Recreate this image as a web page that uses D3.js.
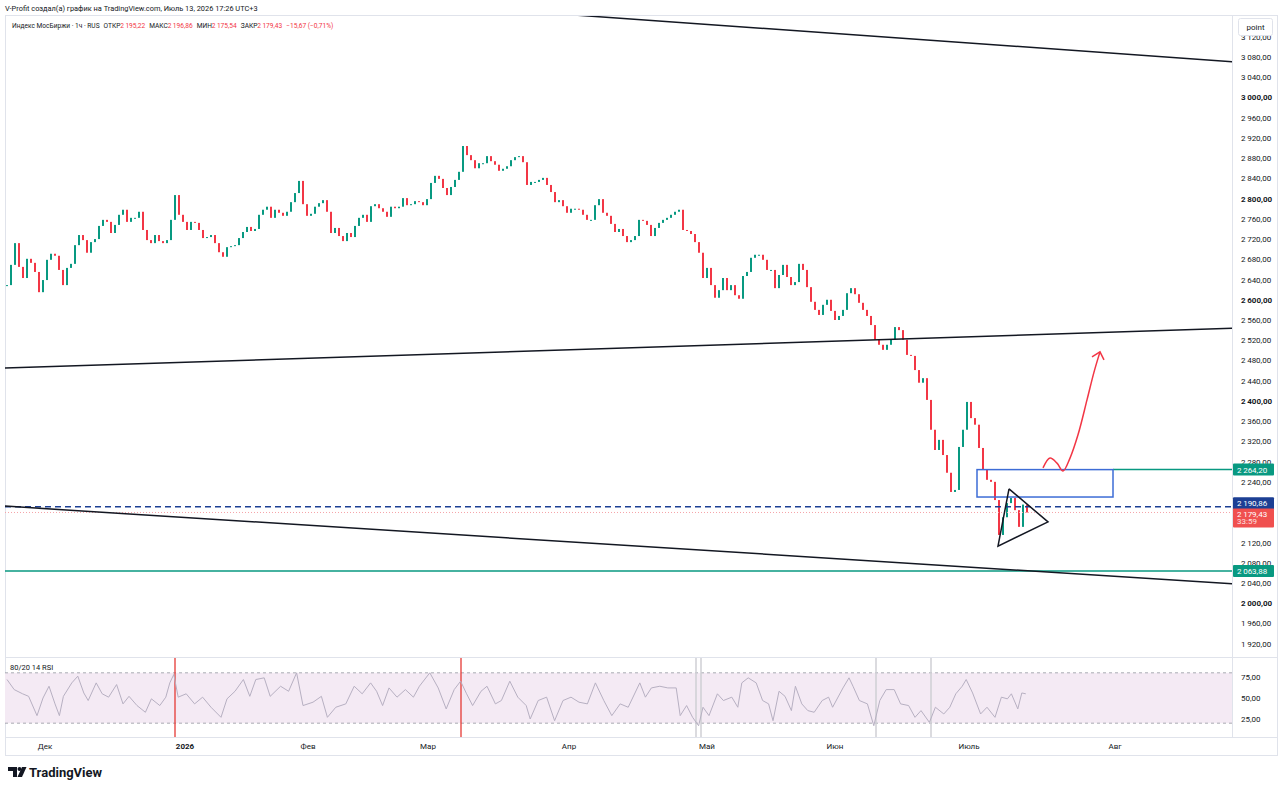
<!DOCTYPE html>
<html>
<head>
<meta charset="utf-8">
<script src="https://cdn.jsdelivr.net/npm/d3@7"></script>
<style>
  body { margin: 0; background: #fff; }
  text { font-family: Roboto, "Noto Sans", sans-serif; }
</style>
</head>
<body>
<div id="chart"></div>
<script>
// closes of the hourly candles (one value every ~4px)
var closes = [2629,2669,2712,2665,2643,2681,2673,2655,2615,2639,
  2679,2691,2687,2659,2629,2663,2671,2708,2728,2718,
  2693,2714,2720,2746,2758,2754,2732,2748,2768,2778,
  2754,2762,2762,2774,2738,2718,2712,2728,2716,2712,
  2718,2758,2807,2768,2754,2738,2754,2752,2738,2722,
  2724,2728,2712,2694,2685,2704,2706,2708,2722,2734,
  2744,2736,2740,2768,2778,2784,2762,2778,2772,2766,
  2774,2793,2811,2835,2789,2766,2770,2784,2791,2797,
  2774,2732,2742,2726,2716,2732,2724,2746,2762,2768,
  2754,2785,2789,2781,2774,2764,2784,2781,2784,2801,
  2787,2789,2795,2793,2787,2799,2831,2845,2839,2821,
  2807,2823,2837,2853,2904,2886,2876,2860,2870,2870,
  2884,2874,2867,2855,2859,2864,2876,2882,2884,2872,
  2827,2833,2833,2837,2841,2827,2813,2793,2797,2785,
  2772,2780,2780,2778,2768,2758,2758,2787,2799,2772,
  2766,2750,2734,2740,2726,2714,2718,2726,2758,2756,
  2748,2726,2742,2752,2758,2762,2768,2774,2778,2738,
  2736,2730,2714,2693,2643,2663,2629,2604,2619,2643,
  2619,2629,2609,2602,2647,2655,2683,2689,2689,2679,
  2659,2659,2623,2649,2669,2645,2629,2635,2671,2659,
  2625,2596,2580,2570,2590,2600,2578,2560,2568,2580,
  2613,2623,2611,2594,2580,2568,2550,2521,2511,2501,
  2511,2521,2546,2540,2521,2491,2489,2461,2436,2445,
  2402,2343,2303,2323,2293,2258,2220,2224,2309,2343,
  2398,2366,2353,2307,2264,2244,2240,2204,2135,2170,
  2198,2208,2184,2151,2195,2179.43];

// RSI(14) readings: bar position and value
var rsiBars = [0,1.8,3.9,5.4,7.5,9,10.5,12,13.1,14.1,16.2,17.7,19.2,20.3,22.3,23.8,25.4,27.4,29,30.5,
  32.5,34.6,36.1,38.2,39.7,40.7,41.7,42.8,44.8,46.9,48.9,51,53.5,55,57,59.1,60.7,62.2,64.3,65.8,
  68.4,70.4,72.4,74,76.5,78.6,80.1,82.2,84.7,86.8,88.8,90.9,92.4,93.9,95.5,97.5,99.6,101.6,103.1,105.7,
  107.8,109.8,111.8,113.4,114.9,116.4,118.5,120,122.1,123.6,125.7,127.7,129.8,130.8,132.8,134.9,136.9,139,141,143,
  145.1,147.1,149.2,151.2,153.3,155.3,158.2,159.6,161.1,163.2,165.2,167.3,168.3,169.9,171.4,172.9,174,175.5,177.6,179.1,
  181.2,182.7,183.7,185.3,187.3,188.9,190.4,191.5,193,194.5,196.1,197.1,198.7,200.2,201.8,203.8,205.4,206.4,209,210.5,
  211.5,213.1,215.1,216.7,218.2,219.8,221.8,223.4,225.4,227,228.5,230.6,232.1,234.2,235.7,237.2,238.8,239.8,241.4,243.4,
  245,247,248.6,250.1,251.1,252.7,253.7,254.7];
var rsiValues = [72,60,55,52,29,50,64,43,29,52,68,76,56,47,68,55,51,66,43,52,
  41,33,49,41,51,68,78,51,55,43,51,39,27,49,58,72,52,72,74,52,
  64,58,80,41,45,52,27,39,43,64,55,68,58,41,62,51,60,51,64,80,
  62,37,60,70,55,41,58,64,43,47,70,51,41,25,47,51,23,47,51,45,
  43,68,47,29,43,39,68,51,62,64,62,62,29,41,27,17,39,29,55,47,
  51,39,68,74,68,47,43,23,58,52,35,64,43,35,33,47,51,39,62,74,
  64,47,43,17,47,60,60,43,41,27,35,21,39,31,39,55,64,72,56,31,
  39,27,51,49,55,37,56,55];
var rsiRedMarks = [42, 113.5];
var rsiGrayMarks = [172.25, 173.5, 217.25, 231];

// month labels and their bar position
var monthLabels = ["Дек", "2026", "Фев", "Мар", "Апр", "Май", "Июн", "Июль", "Авг"];
var monthBars = [9.5, 44.5, 75.25, 105.25, 140.5, 175, 207, 240.5, 277];

// price axis ticks (2200 and 2160 sit under the price badges)
var priceTicks = d3.range(1920, 3121, 40).filter(function (d) { return d !== 2200 && d !== 2160; });

// drawings on the chart (bar, price)
var trendLines = [
  [[60, 3209], [307.5, 3070]],
  [[-0.5, 2465], [307.5, 2544]],
  [[-0.5, 2192], [307.5, 2038]]
];
var zoneBox = { b1: 242.5, b2: 276.5, top: 2264.2, bottom: 2210 };
var triangle = [[250.5, 2226], [260.25, 2161], [247.75, 2113]];
var arrowPath = [[259, 2267.5], [260.75, 2287], [262.5, 2277], [264, 2261.5], [265.75, 2287],
  [267.75, 2333], [270, 2402], [271.75, 2457], [273.25, 2497]];
var arrowHead = [[271.25, 2487], [273.25, 2497], [274.25, 2481]];
var levelGreen = 2063.88, levelZone = 2264.2, levelBlue = 2190.86, lastPrice = 2179.43;

var W = 1280, H = 791;
var left = 5, right = 1232, priceTop = 16, priceBottom = 657, rsiTop = 658, rsiBottom = 737;
var up = "#089981", down = "#f23645";

var svg = d3.select("#chart").append("svg").attr("width", W).attr("height", H);

var x = d3.scaleLinear().domain([0, 255]).range([7, 1027]);
var y = d3.scaleLinear().domain([2040, 3080]).range([583, 57]);
var yR = d3.scaleLinear().domain([25, 75]).range([719, 677]);

var locale = d3.formatLocale({ decimal: ",", thousands: "\u2009", grouping: [3], currency: ["", ""] });
var fmt = locale.format(",.2f");

// clip paths
var defs = svg.append("defs");
defs.append("clipPath").attr("id", "clipPrice").append("rect")
  .attr("x", left).attr("y", priceTop).attr("width", right - left).attr("height", priceBottom - priceTop);
defs.append("clipPath").attr("id", "clipRsi").append("rect")
  .attr("x", left).attr("y", rsiTop).attr("width", right - left).attr("height", rsiBottom - rsiTop);

// frame lines
var frame = svg.append("g").attr("stroke", "#e0e3eb").attr("fill", "none");
frame.append("rect").attr("x", left + 0.5).attr("y", priceTop - 0.5).attr("width", W - left - 3).attr("height", 756 - priceTop);
frame.append("line").attr("x1", right + 0.5).attr("x2", right + 0.5).attr("y1", priceTop).attr("y2", rsiBottom);
frame.append("line").attr("x1", left).attr("x2", W - 2).attr("y1", priceBottom + 0.5).attr("y2", priceBottom + 0.5);
frame.append("line").attr("x1", left).attr("x2", W - 2).attr("y1", rsiBottom + 0.5).attr("y2", rsiBottom + 0.5);

// header
svg.append("text").attr("x", 5).attr("y", 11).attr("font-size", 7.4).attr("fill", "#131722")
  .text("V-Profit создал(а) график на TradingView.com, Июль 13, 2026 17:26 UTC+3");
var head = svg.append("text").attr("x", 12).attr("y", 28).attr("font-size", 6.6).attr("fill", "#131722");
head.append("tspan").text("Индекс МосБиржи · 1ч · RUS");
[["ОТКР", 2195.22], ["МАКС", 2196.86], ["МИН", 2175.54], ["ЗАКР", 2179.43]].forEach(function (d) {
  head.append("tspan").attr("dx", 4).text(d[0]);
  head.append("tspan").attr("fill", down).text(fmt(d[1]));
});
head.append("tspan").attr("dx", 4).attr("fill", down).text("−15,67 (−0,71%)");

// price pane
var pane = svg.append("g").attr("clip-path", "url(#clipPrice)");

// candles
pane.selectAll(".candle")
  .data(closes)
  .enter()
  .append("rect")
  .attr("class", "candle")
  .attr("x", function (d, i) { return x(i) - 1; })
  .attr("width", 2)
  .attr("y", function (d, i) {
    var o = i > 0 ? closes[i - 1] : d;
    return y(Math.max(o, d));
  })
  .attr("height", function (d, i) {
    var o = i > 0 ? closes[i - 1] : d;
    return Math.max(1, Math.abs(y(o) - y(d)));
  })
  .attr("fill", function (d, i) {
    var o = i > 0 ? closes[i - 1] : d;
    return d >= o ? up : down;
  });

// horizontal levels
pane.append("line").attr("x1", left).attr("x2", right).attr("y1", y(lastPrice)).attr("y2", y(lastPrice))
  .attr("stroke", "#f5a3a8").attr("stroke-width", 1).attr("stroke-dasharray", "1,2");
pane.append("line").attr("x1", left).attr("x2", right).attr("y1", y(levelBlue)).attr("y2", y(levelBlue))
  .attr("stroke", "#1c3f94").attr("stroke-width", 1.5).attr("stroke-dasharray", "6,4");
pane.append("line").attr("x1", left).attr("x2", right).attr("y1", y(levelGreen)).attr("y2", y(levelGreen))
  .attr("stroke", up).attr("stroke-width", 1.5);
pane.append("line").attr("x1", x(zoneBox.b2)).attr("x2", right).attr("y1", y(levelZone)).attr("y2", y(levelZone))
  .attr("stroke", up).attr("stroke-width", 1.5);

// zone rectangle
pane.append("rect")
  .attr("x", x(zoneBox.b1)).attr("y", y(zoneBox.top))
  .attr("width", x(zoneBox.b2) - x(zoneBox.b1)).attr("height", y(zoneBox.bottom) - y(zoneBox.top))
  .attr("fill", "none").attr("stroke", "#3d6cd6").attr("stroke-width", 1.5);

// trend lines
var line = d3.line().x(function (d) { return x(d[0]); }).y(function (d) { return y(d[1]); });
pane.selectAll(".trend")
  .data(trendLines)
  .enter()
  .append("path")
  .attr("class", "trend")
  .attr("d", line)
  .attr("fill", "none").attr("stroke", "#131722").attr("stroke-width", 1.5);

// triangle
pane.append("path").attr("d", line(triangle.concat([triangle[0]])))
  .attr("fill", "none").attr("stroke", "#131722").attr("stroke-width", 1.5);

// red projection arrow
pane.append("path").attr("d", line.curve(d3.curveCatmullRom)(arrowPath))
  .attr("fill", "none").attr("stroke", "#f23645").attr("stroke-width", 1.5);
line.curve(d3.curveLinear);
pane.append("path").attr("d", line(arrowHead))
  .attr("fill", "none").attr("stroke", "#f23645").attr("stroke-width", 1.5);

// price axis labels
svg.selectAll(".ptick")
  .data(priceTicks)
  .enter()
  .append("text")
  .attr("class", "ptick")
  .attr("x", 1241)
  .attr("y", function (d) { return y(d) + 3; })
  .attr("font-size", 8)
  .attr("font-weight", function (d) { return d % 200 === 0 ? 700 : 400; })
  .attr("fill", "#131722")
  .text(function (d) { return fmt(d); });

// "point" box
svg.append("rect").attr("x", 1238.5).attr("y", 18.5).attr("width", 34).attr("height", 17).attr("rx", 2)
  .attr("fill", "#fff").attr("stroke", "#e0e3eb");
svg.append("text").attr("x", 1255.5).attr("y", 30).attr("text-anchor", "middle").attr("font-size", 8)
  .attr("fill", "#131722").text("point");

// price badges
function badge(cy, value, color, h) {
  svg.append("rect").attr("x", 1233).attr("y", cy - 6).attr("width", 41).attr("height", h || 12).attr("rx", 1)
    .attr("fill", color);
  svg.append("text").attr("x", 1237).attr("y", cy + 3).attr("font-size", 8).attr("fill", "#fff")
    .text(fmt(value));
}
badge(y(levelZone), levelZone, up);
badge(y(levelBlue) - 3.5, levelBlue, "#1c3f94");
badge(y(lastPrice) + 2, lastPrice, "#f0504f", 19);
svg.append("text").attr("x", 1237).attr("y", y(lastPrice) + 12).attr("font-size", 8).attr("fill", "#fde0e0")
  .text("33:59");
badge(y(levelGreen), levelGreen, up);

// RSI pane
var rsiPane = svg.append("g").attr("clip-path", "url(#clipRsi)");
rsiPane.append("rect").attr("x", left).attr("y", yR(80)).attr("width", right - left)
  .attr("height", yR(20) - yR(80)).attr("fill", "#f4eaf4");
[80, 20].forEach(function (v) {
  rsiPane.append("line").attr("x1", left).attr("x2", right).attr("y1", yR(v)).attr("y2", yR(v))
    .attr("stroke", "#9598a1").attr("stroke-dasharray", "3,3").attr("stroke-width", 0.8);
});
rsiPane.selectAll(".gmark").data(rsiGrayMarks).enter().append("line")
  .attr("x1", function (d) { return x(d); }).attr("x2", function (d) { return x(d); })
  .attr("y1", rsiTop).attr("y2", rsiBottom).attr("stroke", "#cfcfd4").attr("stroke-width", 1.5);
rsiPane.selectAll(".rmark").data(rsiRedMarks).enter().append("line")
  .attr("x1", function (d) { return x(d); }).attr("x2", function (d) { return x(d); })
  .attr("y1", rsiTop).attr("y2", rsiBottom).attr("stroke", "#e53935").attr("stroke-width", 1.3);
rsiPane.append("path")
  .attr("d", d3.line().x(function (d, i) { return x(rsiBars[i]); }).y(function (d) { return yR(d); })(rsiValues))
  .attr("fill", "none").attr("stroke", "#b7b0c2").attr("stroke-width", 1);
svg.append("text").attr("x", 10).attr("y", 670).attr("font-size", 7.5).attr("fill", "#131722").text("80/20 14 RSI");
[75, 50, 25].forEach(function (v) {
  svg.append("text").attr("x", 1241).attr("y", yR(v) + 3).attr("font-size", 8).attr("fill", "#131722").text(fmt(v));
});

// time axis
svg.selectAll(".month")
  .data(monthLabels)
  .enter()
  .append("text")
  .attr("class", "month")
  .attr("x", function (d, i) { return x(monthBars[i]); })
  .attr("y", 749)
  .attr("text-anchor", "middle")
  .attr("font-size", 8)
  .attr("font-weight", function (d) { return d === "2026" ? 700 : 400; })
  .attr("fill", "#131722")
  .text(function (d) { return d; });

// TradingView logo
var logo = svg.append("g").attr("fill", "#131722");
logo.append("path").attr("d", "M8,767 h9 v10 h-4 v-6 h-5 z");
logo.append("circle").attr("cx", 19.5).attr("cy", 769).attr("r", 2);
logo.append("path").attr("d", "M22,767 h4.5 l-4.5,10 h-4.5 z");
svg.append("text").attr("x", 29).attr("y", 777).attr("font-size", 13).attr("font-weight", 700)
  .attr("fill", "#131722").text("TradingView");
</script>
</body>
</html>
